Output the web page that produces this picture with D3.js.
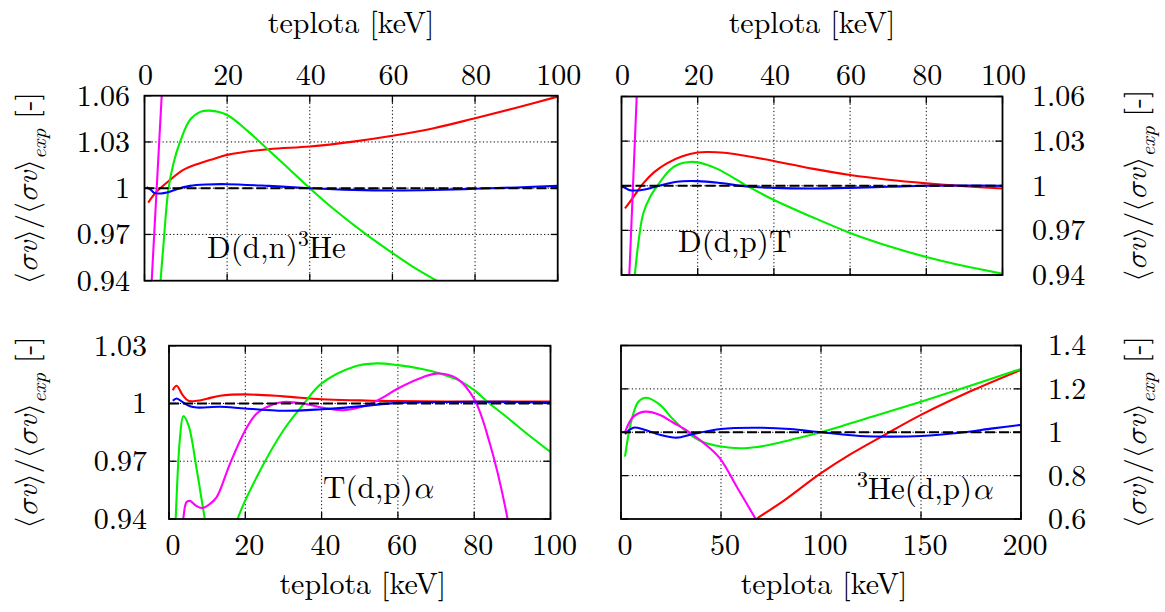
<!DOCTYPE html>
<html><head><meta charset="utf-8">
<script src="https://cdn.jsdelivr.net/npm/d3@7"></script>
<style>
body{margin:0;background:#fff}
</style>
</head><body>
<svg id="c" width="1165" height="612"></svg>
<script>
// ---------------- data ----------------
const xTicks100 = [0, 20, 40, 60, 80, 100];
const xTicks200 = [0, 50, 100, 150, 200];
const yTicksTop = [0.94, 0.97, 1, 1.03, 1.06];
const yTicksTdp = [0.94, 0.97, 1, 1.03];
const yTicksHe3 = [0.6, 0.8, 1, 1.2, 1.4];
const xTitle = "teplota [keV]";

// D(d,n)3He
const ddnRed = [[0.9,0.9907],[2.95,0.9978],[6.2,1.0054],[9.4,1.0119],[13.4,1.0162],[16.7,1.019],[20,1.0216],[30,1.0253],[40,1.027],[50.5,1.0302],[60,1.034],[70,1.0389],[80,1.0454],[90,1.0522],[100,1.0594]];
const ddnGreen = [[3.6,0.925],[3.9,0.94],[4.55,0.962],[5.77,0.9989],[7,1.016],[8.6,1.030],[11,1.0443],[13.5,1.0495],[15.8,1.0503],[20,1.0475],[25,1.037],[30,1.0248],[35,1.0125],[40,1.0],[46,0.986],[53.8,0.9697],[60,0.958],[65,0.949],[70.7,0.94],[72,0.938]];
const ddnMagenta = [[1.5,0.928],[1.74,0.94],[4.16,1.06],[4.4,1.072]];
const ddnBlue = [[0.5,1.0006],[1.5,0.999],[2.5,0.9968],[4,0.9966],[5.4,0.9972],[8,0.9995],[11,1.0015],[15,1.0024],[20,1.0026],[30,1.0015],[40,1.0],[50.5,0.9989],[60,0.9985],[70,0.9988],[80,0.9996],[90,1.0005],[100,1.0015]];

// D(d,p)T
const ddpRed = [[0.92,0.9848],[3,0.992],[5.7,1.0016],[8.5,1.009],[11.9,1.0151],[16,1.0198],[20,1.0223],[22.4,1.0227],[27,1.0222],[32,1.0203],[40,1.0167],[50,1.0115],[60,1.0072],[70,1.004],[80,1.0016],[90,0.9997],[100,0.9982]];
const ddpGreen = [[3.2,0.93],[3.5,0.94],[4.5,0.963],[5.7,0.9814],[7.5,0.9925],[9.2,0.9993],[12.7,1.0106],[15,1.0145],[18,1.016],[20,1.0157],[25,1.0115],[32.9,1.0],[40,0.9904],[50,0.979],[60,0.9683],[70,0.9595],[80,0.9521],[90,0.946],[100,0.9409]];
const ddpMagenta = [[1.8,0.925],[2.05,0.94],[3.99,1.06],[4.2,1.073]];
const ddpBlue = [[0,0.9995],[1,0.9985],[2.2,0.997],[4.9,0.997],[7,0.998],[9.2,0.9995],[14.5,1.0027],[20,1.0031],[26,1.0018],[32.9,0.9995],[40,0.9986],[49.5,0.9982],[60,0.9986],[70,0.9993],[80,1.0],[90,1.0002],[100,1.0]];

// T(d,p)alpha
const tdpRed = [[0.96,1.0069],[2,1.0092],[3.6,1.0043],[5.1,1.0014],[7.3,1.0014],[10,1.0025],[13.4,1.004],[20,1.0047],[30,1.0037],[40,1.0022],[50,1.0016],[60,1.0012],[80,1.001],[100,1.001]];
const tdpGreen = [[1.5,0.925],[1.75,0.94],[2.9,0.9827],[3.75,0.9934],[5.1,0.9887],[7.3,0.9653],[9.4,0.94],[11,0.924],[13,0.912],[15.5,0.918],[18,0.94],[23,0.9618],[30,0.9861],[35,0.999],[40,1.0104],[48.3,1.019],[54.4,1.0208],[60,1.0199],[66,1.018],[71,1.0156],[76,1.012],[80,1.0069],[84,1.0],[88.5,0.993],[94,0.984],[100,0.9748]];
const tdpMagenta = [[3.5,0.93],[3.75,0.94],[4.6,0.9488],[5.5,0.9494],[7,0.947],[8.6,0.9457],[10.5,0.9475],[12.5,0.9514],[16,0.9688],[20,0.9861],[23,0.9948],[27.4,0.9996],[30,1.0008],[35.2,1.0],[40,0.9979],[45.7,0.9965],[51.8,0.9991],[56,1.003],[60,1.0078],[66.7,1.0138],[71,1.0156],[75.4,1.013],[80,1.0023],[84.1,0.9792],[88.5,0.9426],[89.5,0.93]];
const tdpBlue = [[1,1.0014],[2,1.0026],[3.7,1.0005],[5.5,0.9985],[7.3,0.9979],[10,0.998],[13.4,0.9983],[20,0.9974],[30,0.9962],[40,0.997],[50,0.9985],[60,1.0003],[70,1.0007],[80,1.0009],[90,1.0008],[100,1.0005]];

// 3He(d,p)alpha
const he3Red = [[62,0.55],[67.8,0.6],[80,0.675],[100,0.811],[115,0.9],[130.3,0.98],[150,1.08],[175,1.19],[200,1.288]];
const he3Green = [[2,0.888],[5.3,1.057],[8.7,1.141],[12.8,1.159],[19.5,1.126],[26,1.06],[33.7,0.995],[41,0.955],[50,0.934],[59.5,0.926],[68,0.932],[77.8,0.949],[88,0.972],[100,1.0],[125,1.07],[150,1.141],[175,1.215],[200,1.292]];
const he3Magenta = [[2,1.0],[6.2,1.072],[12,1.095],[19.5,1.08],[26,1.045],[33.7,1.003],[44.5,0.926],[50,0.873],[57.8,0.75],[67.3,0.6],[69,0.57]];
const he3Blue = [[2,0.992],[6.2,1.021],[11,1.014],[19.5,0.988],[27.8,0.975],[36,0.992],[50,1.015],[66,1.021],[84.5,1.015],[100,1.0],[119.5,0.983],[136,0.98],[150,0.983],[169.5,0.998],[186,1.018],[200,1.034]];

// ---------------- drawing ----------------
const FONT = "'Latin Modern Roman', 'Liberation Serif', monospace";
const GREEK = "'Latin Modern Math', 'Liberation Serif', monospace";
const BRACK = "'Latin Modern Math', 'DejaVu Serif', monospace";
const svg = d3.select("#c");
const FS = 30;
const colors = {red:"#ff0000", green:"#00f000", magenta:"#ff00ff", blue:"#0000ff"};

const panels = [
  {id:"p1", l:144.5, r:557.7, t:95.7, b:280.7, xd:[0,100], yd:[0.94,1.06], xt:xTicks100, yt:yTicksTop,
   xside:"top", yside:"left", ypad:14.5,
   series:[["red",ddnRed],["green",ddnGreen],["magenta",ddnMagenta],["blue",ddnBlue]],
   lab:{x:207, y:258, parts:[["D(d,n)",0],["3",1],["He",0]]}},
  {id:"p2", l:621.5, r:1002.5, t:96.5, b:275, xd:[0,100], yd:[0.94,1.06], xt:xTicks100, yt:yTicksTop,
   xside:"top", yside:"right", ypad:29.5,
   series:[["red",ddpRed],["green",ddpGreen],["magenta",ddpMagenta],["blue",ddpBlue]],
   lab:{x:678, y:252, parts:[["D(d,p)T",0]]}},
  {id:"p3", l:169, r:550.5, t:345.7, b:519, xd:[0,100], yd:[0.94,1.03], xt:xTicks100, yt:yTicksTdp,
   xside:"bottom", yside:"left", ypad:22,
   series:[["red",tdpRed],["green",tdpGreen],["magenta",tdpMagenta],["blue",tdpBlue]],
   lab:{x:323, y:498, parts:[["T(d,p)",0],["α",4]]}},
  {id:"p4", l:621, r:1021, t:345.5, b:519, xd:[0,200], yd:[0.6,1.4], xt:xTicks200, yt:yTicksHe3,
   xside:"bottom", yside:"right", ypad:27,
   series:[["red",he3Red],["green",he3Green],["magenta",he3Magenta],["blue",he3Blue]],
   lab:{x:857, y:499, parts:[["3",1],["He(d,p)",0],["α",4]]}}
];

function txt(sel){ return sel.append("text").style("font-family", FONT).attr("fill", "#000"); }

// kinds: 0 normal, 1 superscript, 2 italic, 3 italic subscript, 4 italic greek, 5 bracket
function addParts(textSel, parts, fs){
  let shift = 0;
  parts.forEach(([s, kind]) => {
    const ts = textSel.append("tspan").text(s).style("font-family", FONT);
    if (kind === 1) { ts.attr("font-size", fs*0.7).attr("dy", -fs*0.4 - shift); shift = -fs*0.4; return; }
    if (kind === 3) { ts.attr("font-size", fs*0.7).attr("dy", fs*0.3 - shift).attr("font-style","italic"); shift = fs*0.3; return; }
    if (shift !== 0) { ts.attr("dy", -shift); shift = 0; }
    if (kind === 2) ts.attr("font-style","italic");
    if (kind === 4) ts.attr("font-style","italic").style("font-family", GREEK);
    if (kind === 5) ts.style("font-family", BRACK);
  });
}

panels.forEach(p => {
  const x = d3.scaleLinear().domain(p.xd).range([p.l, p.r]);
  const y = d3.scaleLinear().domain(p.yd).range([p.b, p.t]);
  const g = svg.append("g");

  g.append("clipPath").attr("id", "clip-" + p.id)
    .append("rect").attr("x", p.l).attr("y", p.t).attr("width", p.r - p.l).attr("height", p.b - p.t);

  // grid
  const inner = a => a.slice(1, -1);
  g.selectAll(".gx").data(inner(p.xt)).join("line")
    .attr("x1", d => x(d)).attr("x2", d => x(d)).attr("y1", p.t).attr("y2", p.b)
    .attr("stroke", "#000").attr("stroke-width", 1).attr("stroke-dasharray", "1.2,2.4");
  g.selectAll(".gy").data(inner(p.yt)).join("line")
    .attr("x1", p.l).attr("x2", p.r).attr("y1", d => y(d)).attr("y2", d => y(d))
    .attr("stroke", "#000").attr("stroke-width", 1).attr("stroke-dasharray", "1.2,2.4");

  // ticks (inward, mirrored)
  const tk = 7;
  p.xt.forEach(v => {
    g.append("line").attr("x1", x(v)).attr("x2", x(v)).attr("y1", p.t).attr("y2", p.t + tk).attr("stroke","#000").attr("stroke-width",1.3);
    g.append("line").attr("x1", x(v)).attr("x2", x(v)).attr("y1", p.b).attr("y2", p.b - tk).attr("stroke","#000").attr("stroke-width",1.3);
  });
  p.yt.forEach(v => {
    g.append("line").attr("x1", p.l).attr("x2", p.l + tk).attr("y1", y(v)).attr("y2", y(v)).attr("stroke","#000").attr("stroke-width",1.3);
    g.append("line").attr("x1", p.r).attr("x2", p.r - tk).attr("y1", y(v)).attr("y2", y(v)).attr("stroke","#000").attr("stroke-width",1.3);
  });

  // curves
  const line = d3.line().x(d => x(d[0])).y(d => y(d[1])).curve(d3.curveCatmullRom.alpha(0.5));
  const cg = g.append("g").attr("clip-path", "url(#clip-" + p.id + ")");
  p.series.forEach(([c, data]) => {
    cg.append("path").datum(data).attr("d", line)
      .attr("fill", "none").attr("stroke", colors[c]).attr("stroke-width", 2.1).attr("stroke-linejoin","round");
  });
  // reference line
  cg.append("line").attr("x1", p.l).attr("x2", p.r).attr("y1", y(1)).attr("y2", y(1))
    .attr("stroke", "#000").attr("stroke-width", 2).attr("stroke-dasharray", "10,4");

  // frame
  g.append("rect").attr("x", p.l).attr("y", p.t).attr("width", p.r - p.l).attr("height", p.b - p.t)
    .attr("fill", "none").attr("stroke", "#000").attr("stroke-width", 1.8);

  // x tick labels + title
  const cx = (p.l + p.r) / 2;
  if (p.xside === "top") {
    p.xt.forEach(d => txt(g).attr("x", x(d) + 1).attr("y", 85).attr("text-anchor", "middle").attr("font-size", FS).text(d));
    txt(g).attr("x", cx).attr("y", 33).attr("text-anchor", "middle").attr("font-size", 30).text(xTitle);
  } else {
    p.xt.forEach(d => txt(g).attr("x", x(d) + 4).attr("y", 555).attr("text-anchor", "middle").attr("font-size", FS).text(d));
    txt(g).attr("x", cx + 3).attr("y", 594).attr("text-anchor", "middle").attr("font-size", 30).text(xTitle);
  }

  // y tick labels
  const left = p.yside === "left";
  p.yt.forEach(d => txt(g)
    .attr("x", left ? p.l - p.ypad : p.r + p.ypad)
    .attr("y", y(d)).attr("dy", "0.33em")
    .attr("text-anchor", left ? "end" : "start").attr("font-size", FS).text(String(d)));

  // y title
  const ty = (p.t + p.b) / 2;
  const tx = left ? 37 : 1146;
  const yt = txt(g).attr("transform", `translate(${tx},${ty}) rotate(-90)`)
    .attr("text-anchor", "middle").attr("font-size", 30);
  addParts(yt, [["⟨",5],["σ",4],["v",2],["⟩",5],["/",0],["⟨",5],["σ",4],["v",2],["⟩",5],["exp",3],[" [-]",0]], 30);

  // reaction label
  const lt = txt(g).attr("x", p.lab.x).attr("y", p.lab.y).attr("font-size", 31);
  addParts(lt, p.lab.parts, 31);
});
</script>
</body></html>
